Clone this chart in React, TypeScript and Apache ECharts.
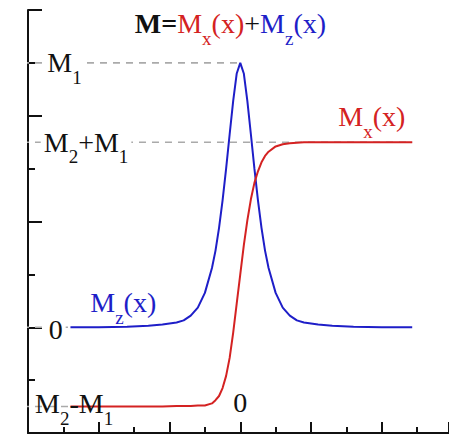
import React, { useEffect, useRef } from "react";
import * as echarts from "echarts";

// positions along the wall (x) and the two magnetisation components
const xs = [-2.4, -2.0, -1.6, -1.3, -1.1, -0.9, -0.8, -0.7, -0.6, -0.5, -0.4, -0.35, -0.3, -0.25, -0.2, -0.15, -0.1, -0.05, 0,
  0.05, 0.1, 0.15, 0.2, 0.25, 0.3, 0.35, 0.4, 0.5, 0.6, 0.7, 0.8, 0.9, 1.1, 1.3, 1.6, 2.0, 2.43];
const mzValues = [0, 0, 0.01, 0.03, 0.05, 0.09, 0.13, 0.22, 0.37, 0.65, 1.12, 1.45, 1.88, 2.4, 3.0, 3.65, 4.28, 4.8, 5,
  4.8, 4.28, 3.65, 3.0, 2.4, 1.88, 1.45, 1.12, 0.65, 0.37, 0.22, 0.13, 0.09, 0.05, 0.03, 0.01, 0, 0];
const mxValues = [-1.5, -1.5, -1.5, -1.5, -1.5, -1.49, -1.49, -1.49, -1.48, -1.48, -1.44, -1.38, -1.3, -1.15, -0.92, -0.58, -0.1, 0.45, 1.0,
  1.55, 2.02, 2.42, 2.73, 2.95, 3.12, 3.24, 3.32, 3.42, 3.46, 3.48, 3.49, 3.5, 3.5, 3.5, 3.5, 3.5, 3.5];

// reference levels: value and where the dashed guide ends on the x axis
const levelNames = ["M1", "M2+M1", "0", "M2-M1"];
const levelValues = [5, 3.5, 0, -1.5];
const levelEnds = [0, 2.43, -2.4, -2.4];

const xTickInterval = 1;
const yTickInterval = 2;

const RED = "#d42222";
const BLUE = "#1e1ec8";
const F = "'Liberation Serif', 'Times New Roman', serif";
const MAIN = 28;
const SUB = 19;

function richFor(color: string) {
  return {
    m: { fontFamily: F, fontSize: MAIN, lineHeight: 32, fill: color },
    s: { fontFamily: F, fontSize: SUB, lineHeight: 10, verticalAlign: "top", padding: [21, 0, 0, 0], fill: color },
  } as any;
}

export default function App() {
  const ref = useRef<HTMLDivElement>(null);
  useEffect(() => {
    const chart = echarts.init(ref.current!, null, { renderer: "svg" });
    const axisCommon = {
      axisLine: { show: true, onZero: false, lineStyle: { color: "#111", width: 2 } },
      axisLabel: { show: false },
      splitLine: { show: false },
    };
    const option: any = {
      animation: false,
      backgroundColor: "#fff",
      grid: { left: 28, right: 0, top: 10, bottom: 2, containLabel: false },
      xAxis: {
        type: "value",
        min: -3,
        max: 2.95,
        interval: xTickInterval,
        ...axisCommon,
        axisTick: { show: true, inside: true, length: 11, lineStyle: { color: "#111", width: 2 } },
        minorTick: { show: true, splitNumber: 2, length: 6, lineStyle: { color: "#111", width: 2 } },
      },
      yAxis: {
        type: "value",
        min: -2,
        max: 6,
        interval: yTickInterval,
        ...axisCommon,
        axisTick: { show: true, inside: true, length: 14, lineStyle: { color: "#111", width: 2 } },
        minorTick: { show: true, splitNumber: 2, length: 7, lineStyle: { color: "#111", width: 2 } },
      },
      series: [
        ...levelValues.map((v, i) => ({
          type: "line",
          name: "guide" + i,
          data: [[-3.085, v], [levelEnds[i], v]],
          showSymbol: false,
          clip: false,
          z: 1,
          lineStyle: { color: "#aaaaaa", width: 1.6, type: [7, 6] },
        })),
        {
          type: "line",
          name: "Mz",
          data: xs.map((x, i) => [x, mzValues[i]]),
          showSymbol: false,
          z: 3,
          lineStyle: { color: BLUE, width: 2 },
        },
        {
          type: "line",
          name: "Mx",
          data: xs.map((x, i) => [x, mxValues[i]]),
          showSymbol: false,
          z: 3,
          lineStyle: { color: RED, width: 2 },
        },
      ],
    };
    chart.setOption(option);

    const px = (x: number, y: number) => chart.convertToPixel({ gridIndex: 0 }, [x, y]) as number[];
    const black = richFor("#111");
    const mkText = (x: number, y: number, text: string, rich: any, bg?: string, align = "left") => {
      const p = px(x, y);
      return {
        type: "text",
        x: p[0],
        y: p[1],
        z: 10,
        style: {
          text,
          rich,
          align,
          verticalAlign: "middle",
          backgroundColor: bg,
          padding: bg ? [0, 3, 0, 3] : 0,
        },
      };
    };
    const titleRich = {
      b: { fontFamily: F, fontSize: MAIN, lineHeight: 32, fill: "#111", fontWeight: "bold" },
      k: { fontFamily: F, fontSize: MAIN, lineHeight: 32, fill: "#111" },
      r: { fontFamily: F, fontSize: MAIN, lineHeight: 32, fill: RED },
      rs: { fontFamily: F, fontSize: SUB, lineHeight: 10, verticalAlign: "top", padding: [21, 0, 0, 0], fill: RED },
      u: { fontFamily: F, fontSize: MAIN, lineHeight: 32, fill: BLUE },
      us: { fontFamily: F, fontSize: SUB, lineHeight: 10, verticalAlign: "top", padding: [21, 0, 0, 0], fill: BLUE },
    };
    const levelText = [
      "{m|M}{s|1}",
      "{m|M}{s|2}{m|+M}{s|1}",
      "{m|0}",
      "{m|M}{s|2}{m|-M}{s|1}",
    ];
    const labelX = [-2.77, -2.82, -2.75, -2.9];
    const labelDy = [0, 0, -0.04, 0.05];
    chart.setOption({
      graphic: [
        ...levelNames.map((_, i) =>
          mkText(labelX[i], levelValues[i] + labelDy[i], levelText[i], black, i < 3 ? "#fff" : undefined)
        ),
        mkText(0, -1.43, "{m|0}", black, undefined, "center"),
        mkText(1.385, 3.98, "{m|M}{s|x}{m|(x)}", richFor(RED)),
        mkText(-2.12, 0.46, "{m|M}{s|z}{m|(x)}", richFor(BLUE)),
        mkText(-1.49, 5.74, "{b|M=}{r|M}{rs|x}{r|(x)}{k|+}{u|M}{us|z}{u|(x)}", titleRich),
      ],
    });
    return () => chart.dispose();
  }, []);
  return (
    <div
      ref={ref}
      style={{ position: "fixed", left: 0, top: 0, width: 449, height: 435, background: "#fff" }}
    />
  );
}
